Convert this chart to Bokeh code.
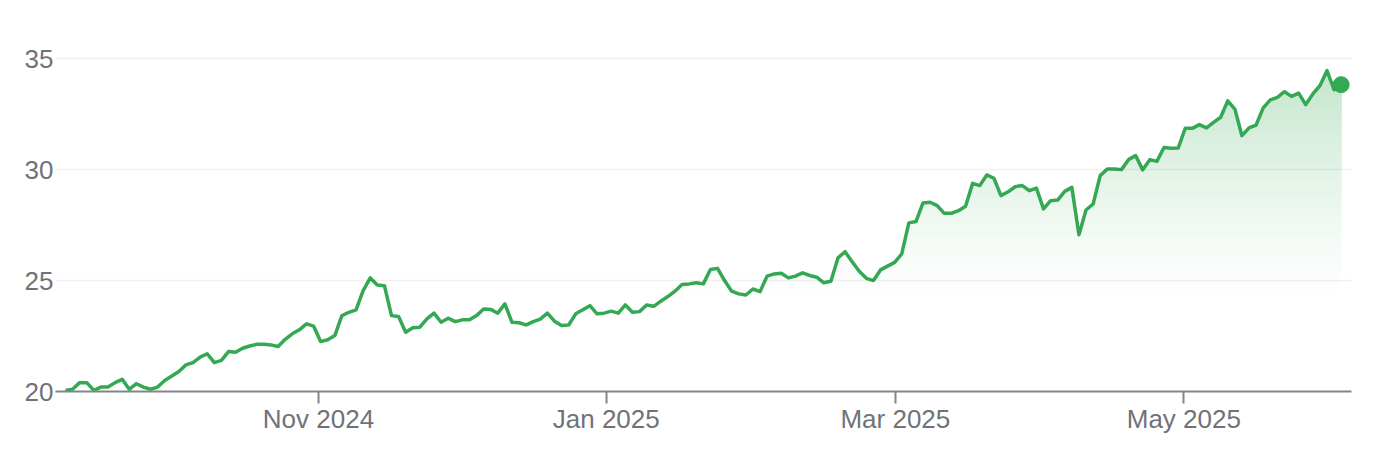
import numpy as np
from bokeh.plotting import figure
from bokeh.models import Range1d, FixedTicker
from bokeh.embed import file_html
from bokeh.resources import INLINE

# ---- data ----
price = [
    20.05, 20.1, 20.4, 20.4, 20.05, 20.2, 20.2, 20.4, 20.55, 20.1,
    20.35, 20.2, 20.1, 20.2, 20.5, 20.7, 20.9, 21.2, 21.3, 21.55,
    21.7, 21.3, 21.4, 21.8, 21.77, 21.95, 22.05, 22.13, 22.13, 22.1,
    22.03,
    22.35, 22.6, 22.78, 23.05, 22.95, 22.25, 22.33, 22.52, 23.42, 23.57,
    23.68, 24.55, 25.12, 24.8, 24.77, 23.42, 23.38, 22.67, 22.87, 22.9,
    23.27, 23.53, 23.12, 23.3, 23.15, 23.23, 23.23, 23.42, 23.72, 23.7,
    23.53, 23.95, 23.12, 23.1, 23.0, 23.15, 23.26, 23.53, 23.17, 22.97,
    23.0, 23.5, 23.68, 23.87, 23.5, 23.53, 23.62, 23.53, 23.9, 23.57,
    23.6, 23.9, 23.84, 24.07, 24.28, 24.52, 24.82, 24.85, 24.9,
    24.85, 25.5, 25.55, 25.0, 24.52, 24.4, 24.35, 24.62, 24.5, 25.2,
    25.3, 25.33, 25.12, 25.2, 25.35, 25.23, 25.15, 24.9, 24.97, 26.02,
    26.3, 25.85, 25.42, 25.1, 25.0, 25.48, 25.65, 25.82, 26.2, 27.6,
    27.66, 28.5,
    28.53, 28.38, 28.03, 28.03, 28.15, 28.35, 29.38, 29.28, 29.76, 29.61,
    28.83, 29.0, 29.23, 29.28, 29.05, 29.17, 28.23, 28.6, 28.63, 29.02,
    29.2, 27.06, 28.18, 28.45, 29.73, 30.03, 30.03, 30.0, 30.45, 30.63,
    29.99, 30.45, 30.37, 31.0, 30.96, 30.97, 31.86, 31.86, 32.03, 31.88,
    32.13, 32.36, 33.1, 32.73, 31.53, 31.88, 32.01, 32.78, 33.14, 33.26,
    33.51, 33.3, 33.45, 32.93, 33.41, 33.78, 34.46, 33.6, 33.83,
]
day_index = list(range(len(price)))

tick_positions = [35.7, 76.3, 117.1, 157.8]
tick_labels = ["Nov 2024", "Jan 2025", "Mar 2025", "May 2025"]
y_ticks = [20, 25, 30, 35]

# ---- style ----
GREEN = (52, 168, 83)
GREEN_HEX = "#34a853"
TEXT = "#6f7378"
AXIS = "#80868b"
FONT = "Liberation Sans"

p = figure(width=1371, height=460, output_backend="svg", toolbar_location=None,
           x_range=Range1d(-1.41, 181.46), y_range=Range1d(20, 36),
           min_border_left=55, min_border_right=20, min_border_top=36,
           min_border_bottom=69)
p.title.visible = False
p.outline_line_color = None
p.background_fill_color = "white"
p.border_fill_color = "white"


# gradient fill: opaque areas above rising base levels, painted bottom-up
def clip_above(xs, ys, lo):
    px, py = [], []
    for i in range(len(xs)):
        if i > 0:
            y0, y1 = ys[i - 1], ys[i]
            if (y0 - lo) * (y1 - lo) < 0:
                t = (lo - y0) / (y1 - y0)
                px.append(xs[i - 1] + t * (xs[i] - xs[i - 1]))
                py.append(lo)
        px.append(xs[i])
        py.append(max(ys[i], lo))
    return px, py


base, top = 23.9, 34.5
levels = np.linspace(base, top, 70)
for lo in levels:
    frac = (lo - base) / (top - base)
    a = 0.30 * frac ** 1.3
    col = tuple(int(round(255 * (1 - a) + c * a)) for c in GREEN)
    hexcol = "#%02x%02x%02x" % col
    px, py = clip_above(day_index, price, float(lo))
    p.varea(x=px, y1=float(lo), y2=py, fill_color=hexcol, fill_alpha=1.0)

p.line(day_index, price, line_color=GREEN_HEX, line_width=3.5, line_join="round")
p.scatter(day_index[-1:], price[-1:], size=16, color=GREEN_HEX)

# grid (drawn over the opaque fill, translucent)
p.xgrid.visible = False
p.ygrid.ticker = FixedTicker(ticks=y_ticks)
p.ygrid.grid_line_color = "black"
p.ygrid.grid_line_alpha = 0.06
p.ygrid.grid_line_width = 1.5
p.ygrid.level = "overlay"

# y axis
ya = p.yaxis[0]
ya.ticker = FixedTicker(ticks=y_ticks)
ya.axis_line_color = None
ya.major_tick_line_color = None
ya.minor_tick_line_color = None
ya.major_tick_out = 0
ya.major_tick_in = 0
ya.major_label_standoff = 2
ya.major_label_text_font = FONT
ya.major_label_text_font_size = "26px"
ya.major_label_text_color = TEXT

# x axis
xa = p.xaxis[0]
xa.ticker = FixedTicker(ticks=tick_positions)
xa.major_label_overrides = {t: l for t, l in zip(tick_positions, tick_labels)}
xa.axis_line_color = AXIS
xa.axis_line_width = 2
xa.major_tick_line_color = AXIS
xa.major_tick_line_width = 2
xa.major_tick_out = 12
xa.major_tick_in = 0
xa.minor_tick_line_color = None
xa.major_label_standoff = 0
xa.major_label_text_font = FONT
xa.major_label_text_font_size = "26px"
xa.major_label_text_color = TEXT

open("out.html", "w").write(file_html(p, INLINE))
